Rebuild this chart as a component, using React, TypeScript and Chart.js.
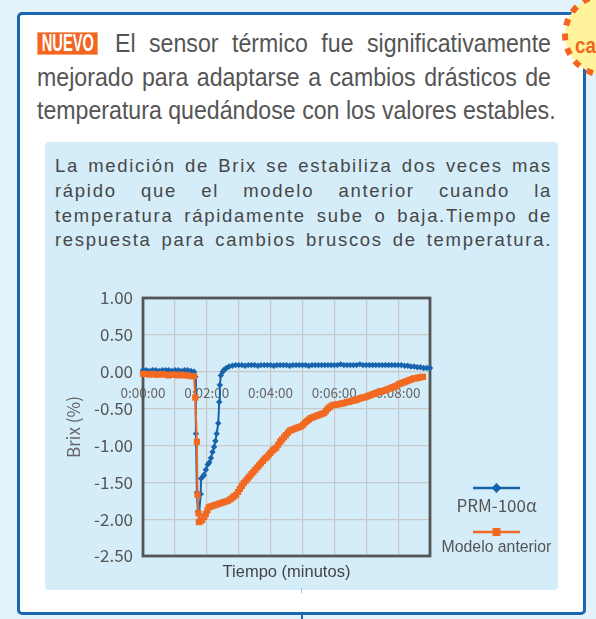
import React, { useEffect, useRef } from "react";
import { Chart, registerables } from "chart.js";

Chart.register(...registerables);

// ---------------- data ----------------
const seriesNames = ["PRM-100α", "Modelo anterior"];
const xTickLabels = ["0:00:00", "0:02:00", "0:04:00", "0:06:00", "0:08:00"];
const yTitle = "Brix (%)";
const xTitle = "Tiempo (minutos)";

// PRM-100α (minutes, Brix %)
const prmTime = [
  0, 0.1, 0.2, 0.3, 0.4, 0.5, 0.6, 0.7, 0.8, 0.9, 1.0, 1.1, 1.2, 1.3, 1.4, 1.5, 1.6,
  1.64, 1.66, 1.69, 1.72, 1.76, 1.81, 1.82, 1.88, 1.91, 1.97, 2.03, 2.08, 2.13, 2.18,
  2.23, 2.27, 2.31, 2.36, 2.39, 2.41, 2.44, 2.5, 2.55, 2.62, 2.7, 2.8, 2.9,
  3.0, 3.1, 3.2, 3.3, 3.4, 3.5, 3.6, 3.7, 3.8, 3.9, 4.0, 4.1, 4.2, 4.3, 4.4, 4.5, 4.6,
  4.7, 4.8, 4.9, 5.0, 5.1, 5.2, 5.3, 5.4, 5.5, 5.6, 5.7, 5.8, 5.9, 6.0, 6.1, 6.2, 6.3,
  6.4, 6.5, 6.6, 6.7, 6.8, 6.9, 7.0, 7.1, 7.2, 7.3, 7.4, 7.5, 7.6, 7.7, 7.8, 7.9, 8.0,
  8.1, 8.2, 8.3, 8.4, 8.5, 8.6, 8.7, 8.8, 8.9, 9.0,
];
const prmBrix = [
  0.02, 0.02, 0.01, 0.02, 0.02, 0.01, 0.02, 0.02, 0.02, 0.01, 0.02, 0.02, 0.01, 0.02, 0.02, 0.01, 0.0,
  -0.07, -0.84, -1.64, -1.9, -1.93, -1.66, -1.45, -1.42, -1.4, -1.33, -1.26, -1.23, -1.17, -1.09,
  -1.02, -0.94, -0.84, -0.7, -0.41, -0.18, -0.05, 0.0, 0.03, 0.05, 0.07, 0.08, 0.09,
  0.09, 0.09, 0.08, 0.09, 0.09, 0.09, 0.08, 0.09, 0.09, 0.09, 0.09, 0.08, 0.09, 0.09, 0.09, 0.09, 0.08,
  0.09, 0.09, 0.09, 0.09, 0.09, 0.08, 0.09, 0.09, 0.09, 0.09, 0.09, 0.09, 0.09, 0.09, 0.09, 0.1, 0.09,
  0.09, 0.09, 0.09, 0.09, 0.1, 0.09, 0.09, 0.09, 0.09, 0.09, 0.09, 0.09, 0.09, 0.09, 0.09, 0.09, 0.09,
  0.09, 0.08, 0.08, 0.07, 0.07, 0.06, 0.06, 0.05, 0.05, 0.05,
];

// Modelo anterior (minutes, Brix %)
const oldTime = [
  0, 0.1, 0.2, 0.3, 0.4, 0.5, 0.6, 0.7, 0.8, 0.9, 1.0, 1.1, 1.2, 1.3, 1.4, 1.5, 1.6,
  1.64, 1.69, 1.71, 1.74, 1.75, 1.8, 1.86, 1.92, 1.97, 2.02, 2.06, 2.12, 2.18, 2.25,
  2.32, 2.39, 2.46, 2.53, 2.6, 2.67, 2.74, 2.8, 2.86, 2.92, 2.98, 3.04, 3.1, 3.16,
  3.22, 3.28, 3.34, 3.4, 3.46, 3.52, 3.58, 3.64, 3.7, 3.76, 3.82, 3.88, 3.94, 4.0,
  4.06, 4.12, 4.18, 4.24, 4.3, 4.36, 4.42, 4.48, 4.54, 4.6, 4.66, 4.72, 4.78, 4.84,
  4.9, 4.96, 5.02, 5.08, 5.14, 5.2, 5.26, 5.32, 5.38, 5.44, 5.5, 5.56, 5.62, 5.68,
  5.74, 5.8, 5.86, 5.92, 5.98, 6.04, 6.1, 6.16, 6.22, 6.28, 6.34, 6.4, 6.46, 6.52,
  6.58, 6.64, 6.7, 6.76, 6.82, 6.88, 6.94, 7.0, 7.06, 7.12, 7.18, 7.24, 7.3, 7.36,
  7.42, 7.48, 7.54, 7.6, 7.66, 7.72, 7.78, 7.84, 7.9, 7.96, 8.02, 8.08, 8.14, 8.2,
  8.26, 8.32, 8.38, 8.44, 8.5, 8.56, 8.62, 8.68, 8.74, 8.78,
];
const oldBrix = [
  -0.03, -0.03, -0.04, -0.03, -0.04, -0.04, -0.03, -0.04, -0.05, -0.04, -0.04, -0.05, -0.04, -0.05, -0.05, -0.06, -0.06,
  -0.35, -0.95, -1.67, -1.92, -2.04, -2.03, -2.01, -1.97, -1.93, -1.88, -1.84, -1.83, -1.82, -1.81,
  -1.8, -1.79, -1.78, -1.77, -1.76, -1.75, -1.73, -1.71, -1.69, -1.67, -1.63, -1.59, -1.55, -1.51,
  -1.48, -1.45, -1.42, -1.39, -1.36, -1.33, -1.3, -1.27, -1.24, -1.21, -1.18, -1.16, -1.13, -1.1,
  -1.07, -1.05, -1.03, -0.99, -0.95, -0.92, -0.89, -0.86, -0.83, -0.8, -0.79, -0.78, -0.77, -0.76,
  -0.75, -0.74, -0.72, -0.69, -0.67, -0.65, -0.63, -0.62, -0.61, -0.6, -0.59, -0.58, -0.57, -0.56,
  -0.53, -0.5, -0.48, -0.46, -0.45, -0.45, -0.44, -0.44, -0.43, -0.43, -0.42, -0.41, -0.41, -0.4,
  -0.39, -0.39, -0.38, -0.37, -0.36, -0.35, -0.35, -0.34, -0.33, -0.32, -0.31, -0.3, -0.29, -0.28,
  -0.27, -0.27, -0.26, -0.25, -0.24, -0.23, -0.22, -0.21, -0.2, -0.19, -0.17, -0.16, -0.15, -0.14,
  -0.13, -0.12, -0.11, -0.1, -0.09, -0.09, -0.08, -0.08, -0.07, -0.07,
];

// ---------------- styles ----------------
const BLUE = "#1763ad";
const ORANGE = "#f26a22";
const JP = "'Noto Sans CJK JP', 'Noto Sans', sans-serif";
const SANS = "'Liberation Sans', Arial, sans-serif";

const framePlugin = {
  id: "frameLegend",
  beforeDatasetsDraw(chart: any) {
    const { ctx, chartArea: a } = chart;
    ctx.save();
    ctx.strokeStyle = "#555555";
    ctx.lineWidth = 2.8;
    ctx.strokeRect(a.left, a.top, a.right - a.left, a.bottom - a.top);
    ctx.restore();
  },
  afterDraw(chart: any) {
    const { ctx } = chart;
    const cx = 451.5;
    ctx.save();
    // PRM-100α
    ctx.strokeStyle = BLUE;
    ctx.lineWidth = 2.5;
    ctx.beginPath();
    ctx.moveTo(428, 226);
    ctx.lineTo(475, 226);
    ctx.stroke();
    ctx.fillStyle = BLUE;
    ctx.beginPath();
    ctx.moveTo(cx, 221);
    ctx.lineTo(cx + 5, 226);
    ctx.lineTo(cx, 231);
    ctx.lineTo(cx - 5, 226);
    ctx.closePath();
    ctx.fill();
    ctx.fillStyle = "#555";
    ctx.textAlign = "center";
    ctx.textBaseline = "middle";
    ctx.font = `17px ${JP}`;
    ctx.fillText(seriesNames[0], cx, 244);
    // Modelo anterior
    ctx.strokeStyle = ORANGE;
    ctx.beginPath();
    ctx.moveTo(428, 270);
    ctx.lineTo(475, 270);
    ctx.stroke();
    ctx.fillStyle = ORANGE;
    ctx.fillRect(cx - 4, 266, 8, 8);
    ctx.fillStyle = "#555";
    ctx.font = `15.8px ${SANS}`;
    ctx.fillText(seriesNames[1], cx, 286);
    ctx.restore();
  },
};

function BrixChart() {
  const ref = useRef<HTMLCanvasElement | null>(null);
  useEffect(() => {
    if (!ref.current) return;
    const prmData = prmTime.map((t, i) => ({ x: t, y: prmBrix[i] }));
    const oldData = oldTime.map((t, i) => ({ x: t, y: oldBrix[i] }));
    const chart = new Chart(ref.current, {
      type: "line",
      data: {
        datasets: [
          {
            label: seriesNames[0],
            data: prmData,
            borderColor: BLUE,
            backgroundColor: BLUE,
            borderWidth: 2,
            pointStyle: "rectRot",
            pointRadius: 3.2,
            pointBorderWidth: 0,
            pointBackgroundColor: BLUE,
            tension: 0,
            order: 2,
            clip: 6,
          },
          {
            label: seriesNames[1],
            data: oldData,
            borderColor: ORANGE,
            backgroundColor: ORANGE,
            borderWidth: 2,
            pointStyle: "rect",
            pointRadius: 4.4,
            pointBorderWidth: 0,
            pointBackgroundColor: ORANGE,
            tension: 0,
            order: 1,
            clip: 6,
          },
        ],
      },
      options: {
        animation: false,
        responsive: false,
        devicePixelRatio: 1,
        layout: { padding: { top: 36, right: 128, left: 0, bottom: 0 } },
        plugins: { legend: { display: false }, tooltip: { enabled: false } },
        scales: {
          x: {
            type: "linear",
            min: 0,
            max: 9,
            position: { y: 0 } as any,
            ticks: {
              stepSize: 1,
              autoSkip: false,
              maxRotation: 0,
              padding: 13,
              color: "#666",
              font: { family: JP, size: 13.5 },
              callback: (v: any) =>
                Number(v) % 2 === 0 && Number(v) <= 8 ? xTickLabels[Number(v) / 2] : "",
            },
            grid: { color: "#c9c9c9", lineWidth: 1.2, drawTicks: false },
            border: { display: false },
          },
          xb: {
            type: "linear",
            axis: "x",
            position: "bottom",
            min: 0,
            max: 9,
            ticks: { display: false },
            grid: { display: false, drawTicks: false },
            border: { display: false },
            title: {
              display: true,
              text: xTitle,
              color: "#444",
              font: { family: SANS, size: 16.5 },
              padding: { top: 0, bottom: 8 },
            },
            afterFit: (s: any) => {
              s.height = 34;
            },
          },
          y: {
            type: "linear",
            min: -2.5,
            max: 1,
            ticks: {
              stepSize: 0.5,
              padding: 10,
              color: "#555",
              font: { family: JP, size: 17 },
              callback: (v: any) => Number(v).toFixed(2),
            },
            grid: { color: "#c9c9c9", lineWidth: 1.2, drawTicks: false },
            border: { display: false },
            title: {
              display: true,
              text: yTitle,
              color: "#666",
              font: { family: JP, size: 17 },
              padding: { top: 18, bottom: 0 },
            },
            afterFit: (s: any) => {
              s.width = 98;
            },
          },
        },
      } as any,
      plugins: [framePlugin],
    });
    return () => chart.destroy();
  }, []);
  return (
    <canvas
      ref={ref}
      width={513}
      height={328}
      style={{ position: "absolute", left: 45, top: 262, width: 513, height: 328 }}
    />
  );
}

const mainLines = [
  "El sensor térmico fue significativamente",
  "mejorado para adaptarse a cambios drásticos de",
  "temperatura quedándose con los valores estables.",
];
const boxLines = [
  "La medición de Brix se estabiliza dos veces mas",
  "rápido que el modelo anterior cuando la",
  "temperatura rápidamente sube o baja.Tiempo de",
  "respuesta para cambios bruscos de temperatura.",
];

const SQ = 0.926; // horizontal condensation of the headline face

export default function App() {
  const just: React.CSSProperties = {
    position: "absolute",
    textAlign: "justify",
    textAlignLast: "justify" as any,
    whiteSpace: "nowrap",
  };
  return (
    <div
      style={{
        position: "fixed",
        left: 0,
        top: 0,
        width: 596,
        height: 619,
        overflow: "hidden",
        background: "#e4f2fb",
      }}
    >
      <div
        style={{
          position: "absolute",
          left: 17,
          top: 12,
          width: 569,
          height: 603,
          boxSizing: "border-box",
          border: "3px solid #1a66b0",
          borderRadius: 5,
          background: "#fff",
        }}
      />
      {/* NUEVO badge */}
      <div
        style={{
          position: "absolute",
          left: 37,
          top: 32,
          width: 61,
          height: 23,
          background: "#f26522",
          boxSizing: "border-box",
          border: "1px solid #f8a574",
          overflow: "hidden",
          textAlign: "center",
        }}
      >
        <span
          style={{
            display: "inline-block",
            transform: "scaleX(0.64)",
            transformOrigin: "center top",
            color: "#fff",
            fontFamily: SANS,
            fontWeight: 700,
            fontSize: 23,
            lineHeight: "21px",
            marginLeft: -30,
            marginRight: -30,
          }}
        >
          NUEVO
        </span>
      </div>
      {mainLines.map((t, i) => {
        const w = i === 0 ? 436 : 514;
        return (
          <div
            key={i}
            style={{
              ...just,
              left: i === 0 ? 115 : 37,
              width: w / SQ,
              top: 27 + i * 33.5,
              height: 33,
              fontFamily: SANS,
              fontSize: 25,
              lineHeight: "33px",
              color: "#555",
              transform: `scaleX(${SQ})`,
              transformOrigin: "left top",
            }}
          >
            {t}
          </div>
        );
      })}
      {/* light blue inner box */}
      <div
        style={{
          position: "absolute",
          left: 45,
          top: 142,
          width: 513,
          height: 448,
          background: "#d4edf9",
          borderRadius: 4,
        }}
      />
      {boxLines.map((t, i) => (
        <div
          key={i}
          style={{
            ...just,
            left: 55,
            width: 497,
            top: 154 + i * 24.8,
            height: 24.8,
            fontFamily: SANS,
            fontSize: 18.5,
            letterSpacing: 1.7,
            lineHeight: "24.8px",
            color: "#474747",
          }}
        >
          {t}
        </div>
      ))}
      <BrixChart />
      {/* connector marks */}
      <div style={{ position: "absolute", left: 301, top: 588, width: 1, height: 5, background: "#9cc8e6" }} />
      <div style={{ position: "absolute", left: 301, top: 612, width: 2, height: 8, background: "#1a66b0" }} />
      {/* circle badge top-right */}
      <svg width={100} height={100} style={{ position: "absolute", left: 555, top: -15 }}>
        <circle
          cx={50}
          cy={50}
          r={40}
          fill="#fff49c"
          stroke="#f26522"
          strokeWidth={6}
          strokeDasharray="7 8"
        />
      </svg>
      <div
        style={{
          position: "absolute",
          left: 575,
          top: 34,
          fontFamily: SANS,
          fontWeight: 700,
          fontSize: 22,
          lineHeight: "24px",
          color: "#f26522",
          whiteSpace: "nowrap",
          transform: "scaleX(0.85)",
          transformOrigin: "left top",
        }}
      >
        ca
      </div>
    </div>
  );
}
